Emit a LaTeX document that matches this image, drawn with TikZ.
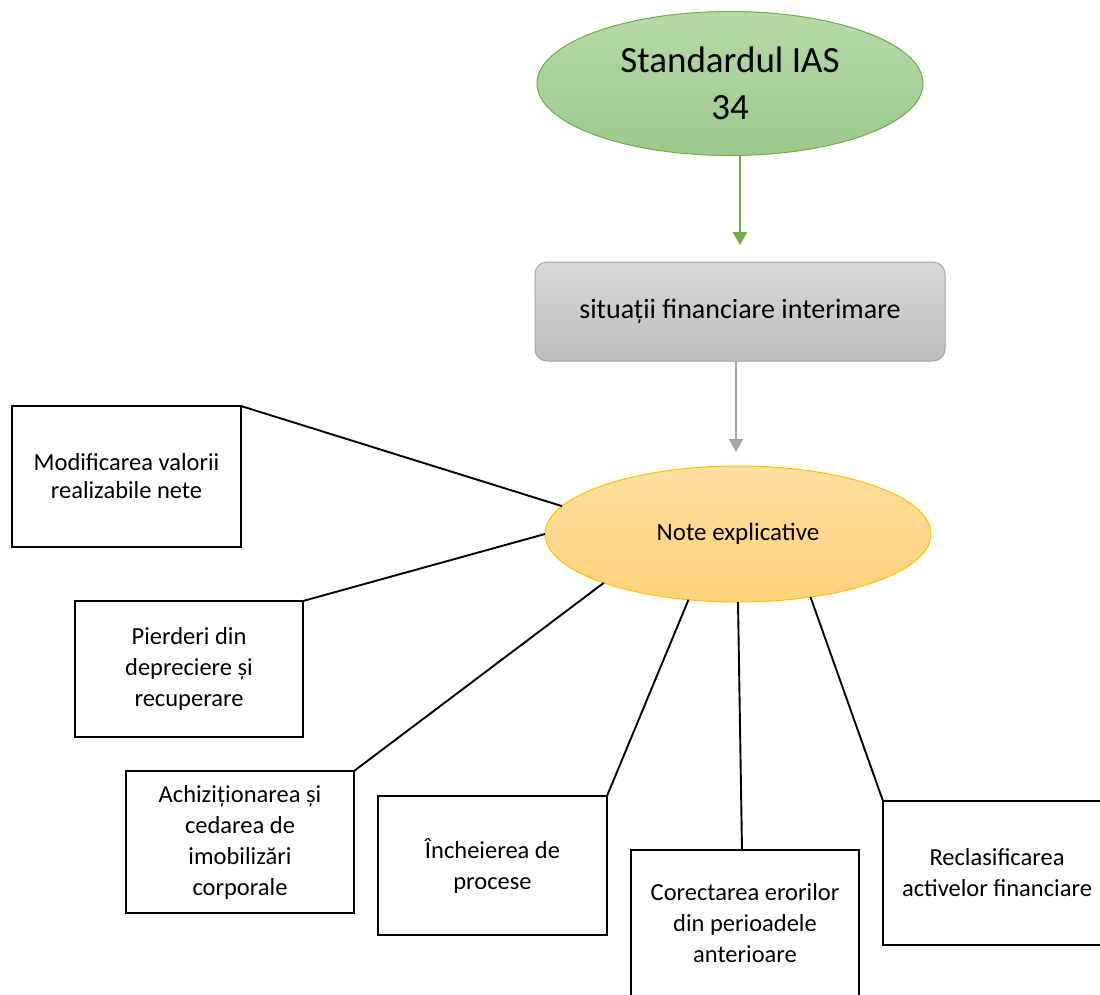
\documentclass[tikz,border=0pt]{standalone}
\usepackage{fontspec}
\setmainfont{Carlito}
\usetikzlibrary{shapes.geometric,arrows.meta,calc}
\definecolor{gtop}{HTML}{B7D9A9}
\definecolor{gbot}{HTML}{9BC98A}
\definecolor{gline}{HTML}{70AD47}
\definecolor{stop}{HTML}{D9D9D9}
\definecolor{sbot}{HTML}{BDBDBD}
\definecolor{sline}{HTML}{A5A5A5}
\definecolor{otop}{HTML}{FFDE9F}
\definecolor{obot}{HTML}{FFD27A}
\definecolor{oline}{HTML}{FFC000}
\tikzset{
  infobox/.style={draw=black, line width=1.8pt, fill=white, inner sep=0pt, outer sep=0pt, align=center,
    font=\fontsize{24.5}{31}\selectfont},
  conn/.style={draw=black, line width=1.9pt},
  tipa/.style={-{Triangle[width=14pt,length=13pt]}, line width=2.8pt},
}
\begin{document}
\begin{tikzpicture}[x=1pt,y=-1pt]
\useasboundingbox (0,0) rectangle (1100,994);
% top ellipse
\node[ellipse, draw=gline, line width=1pt, top color=gtop, bottom color=gbot,
  minimum width=386pt, minimum height=144pt, inner sep=0pt, outer sep=0pt, align=center,
  font=\fontsize{37}{47}\selectfont] (se) at (730,83.5) {Standardul IAS\\34};
% grey box
\node[draw=sline, line width=1pt, rounded corners=12pt, top color=stop, bottom color=sbot,
  minimum width=410pt, minimum height=99pt, inner sep=0pt, outer sep=0pt,
  font=\fontsize{28}{34}\selectfont] (ib) at (740,311.5) {situații financiare interimare};
% orange ellipse
\node[ellipse, draw=oline, line width=1pt, top color=otop, bottom color=obot,
  minimum width=386pt, minimum height=136pt, inner sep=0pt, outer sep=0pt,
  font=\fontsize{25}{30}\selectfont] (ne) at (738,534) {Note explicative};
% arrows
\draw[tipa, draw=gline, fill=gline] (se.south -| ib.north) -- ([yshift=17pt]ib.north);
\draw[tipa, draw=sline, fill=sline] ($(ib.south -| ne.north)+(-2,0)$) -- ([xshift=-2pt,yshift=14pt]ne.north);
% boxes
\node[infobox, minimum width=229pt, minimum height=141pt, font=\fontsize{24.5}{28}\selectfont] (m1) at (126.5,476.5) {Modificarea valorii\\realizabile nete};
\node[infobox, minimum width=228pt, minimum height=136pt] (p2) at (189,669) {Pierderi din\\depreciere și\\recuperare};
\node[infobox, minimum width=228pt, minimum height=142pt] (a3) at (240,842) {Achiziționarea și\\cedarea de\\imobilizări\\corporale};
\node[infobox, minimum width=229pt, minimum height=139pt] (i4) at (492.5,865.5) {Încheierea de\\procese};
\node[infobox, minimum width=228pt, minimum height=146pt] (c5) at (745,923) {Corectarea erorilor\\din perioadele\\anterioare};
\node[infobox, minimum width=228pt, minimum height=144pt] (r6) at (997,873) {Reclasificarea\\activelor financiare};
% connectors
\draw[conn] (m1.north east) -- (ne.171.4);
\draw[conn] (p2.north east) -- (ne.180);
\draw[conn] (a3.north east) -- (ne.200);
\draw[conn] (i4.north east) -- (ne.233);
\draw[conn] ($(c5.north)+(-3,0)$) -- (ne.270);
\draw[conn] (r6.north west) -- (ne.319);
\end{tikzpicture}
\end{document}
